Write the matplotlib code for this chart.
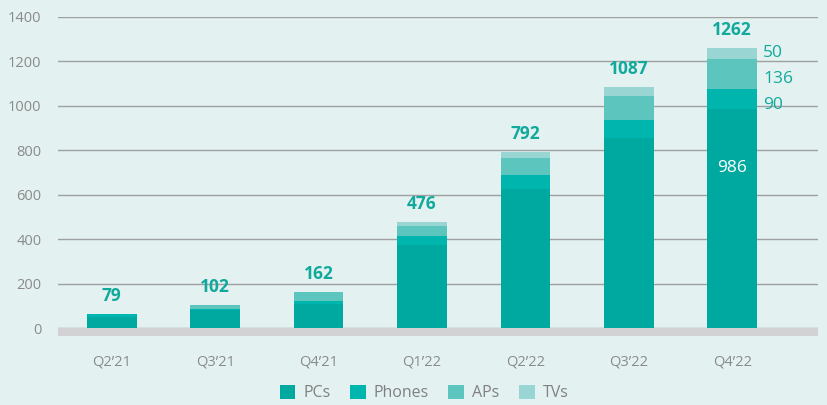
import matplotlib.pyplot as plt
import numpy as np

plt.rcParams['font.family'] = ['Open Sans', 'DejaVu Sans']

quarters = ["Q2\u201921", "Q3\u201921", "Q4\u201921", "Q1\u201922", "Q2\u201922", "Q3\u201922", "Q4\u201922"]
pcs = [50, 80, 108, 373, 625, 855, 986]
phones = [13, 5, 13, 40, 63, 80, 90]
aps = [0, 17, 40, 45, 77, 110, 136]
tvs = [0, 0, 1, 18, 27, 42, 50]
totals = [79, 102, 162, 476, 792, 1087, 1262]

series = [("PCs", pcs, "#00a99f"), ("Phones", phones, "#00b5ae"),
          ("APs", aps, "#5cc5be"), ("TVs", tvs, "#98d5d3")]

bg = "#e3f2f1"
teal = "#12a99d"
fig = plt.figure(figsize=(8.27, 4.05), dpi=100, facecolor=bg)
ax = fig.add_axes([58 / 827, 1 - 336 / 405, 760 / 827, 319 / 405], facecolor=bg)

x = np.arange(len(quarters))
bottom = np.zeros(len(quarters))
for name, vals, col in series:
    ax.bar(x, vals, width=0.48, bottom=bottom, color=col, label=name, zorder=3)
    bottom += np.array(vals)

# totals above the bars
for xi, top, t in zip(x, bottom, totals):
    ax.text(xi, top + 40, str(t), ha='center', va='bottom', color=teal,
            fontsize=12.5, fontweight='bold', zorder=4)

# breakdown of the last quarter
i = len(quarters) - 1
ax.text(x[i] + 0.3, 1237, str(tvs[i]), ha='left', va='center', color=teal, fontsize=12.5)
ax.text(x[i] + 0.3, 1120, str(aps[i]), ha='left', va='center', color=teal, fontsize=12.5)
ax.text(x[i] + 0.3, 1005, str(phones[i]), ha='left', va='center', color=teal, fontsize=12.5)
ax.text(x[i], 720, str(pcs[i]), ha='center', va='center', color='white', fontsize=12.5, zorder=4)

ax.set_ylim(-36, 1400)
ax.set_xlim(-0.52, 6.83)
ax.set_yticks(range(0, 1401, 200))
ax.yaxis.grid(True, color='#a0a0a0', linewidth=1, zorder=0)
ax.axhspan(-36, 0, color='#d2d2d4', zorder=2, linewidth=0)
ax.set_xticks(x, quarters)
ax.tick_params(length=0, colors='#8a8a8a', labelsize=10.5)
ax.tick_params(axis='y', pad=12)
ax.tick_params(axis='x', pad=13)
for s in ax.spines.values():
    s.set_visible(False)

fig.legend(loc='center', bbox_to_anchor=(424 / 827, 1 - 393 / 405), ncol=4, frameon=False,
           fontsize=11.5, labelcolor='#808080', handlelength=1.0, handleheight=1.0,
           handletextpad=0.5, columnspacing=1.2)

fig.savefig("out.png", dpi=100, facecolor=bg)
